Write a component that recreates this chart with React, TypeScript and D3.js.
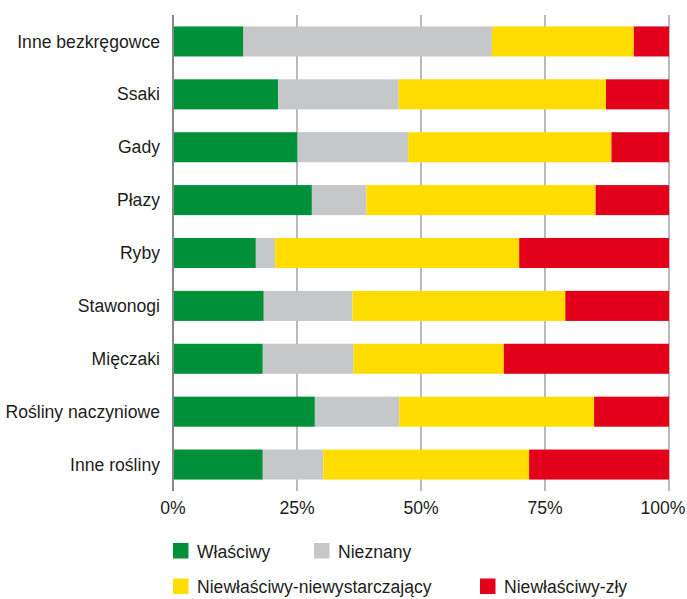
import React from "react";
import * as d3 from "d3";

const categories = [
  "Inne bezkręgowce",
  "Ssaki",
  "Gady",
  "Płazy",
  "Ryby",
  "Stawonogi",
  "Mięczaki",
  "Rośliny naczyniowe",
  "Inne rośliny",
];

const seriesNames = [
  "Właściwy",
  "Nieznany",
  "Niewłaściwy-niewystarczający",
  "Niewłaściwy-zły",
];

const wlasciwy = [14.2, 21.2, 25.1, 28.0, 16.7, 18.3, 18.1, 28.6, 18.1];
const nieznany = [50.1, 24.3, 22.3, 11.0, 3.9, 17.9, 18.3, 17.0, 12.2];
const niewystarczajacy = [28.6, 41.8, 41.0, 46.2, 49.2, 42.9, 30.3, 39.3, 41.5];
const zly = [7.1, 12.7, 11.6, 14.8, 30.2, 20.9, 33.3, 15.1, 28.2];

const tickValues = [0, 25, 50, 75, 100];
const tickLabels = ["0%", "25%", "50%", "75%", "100%"];

const colors = ["#00903a", "#c6c7c9", "#ffdd00", "#e2001a"];

const W = 687;
const H = 599;
const FONT = "'Liberation Sans', Arial, sans-serif";
const TEXT = "#1d1d1b";

export default function App() {
  const x = d3.scaleLinear().domain([0, 100]).range([173, 669]);
  const y = d3
    .scaleBand<string>()
    .domain(categories)
    .range([15, 491])
    .paddingInner(0.432)
    .paddingOuter(0.216);

  const table = categories.map((c, i) => ({
    cat: c,
    s0: wlasciwy[i],
    s1: nieznany[i],
    s2: niewystarczajacy[i],
    s3: zly[i],
  }));
  const stack = d3.stack<any>().keys(["s0", "s1", "s2", "s3"]);
  const layers = stack(table);

  const [yTop, yBot] = y.range();

  const legendRows = [
    { y: 543, items: [{ i: 0, x: 173 }, { i: 1, x: 314 }] },
    { y: 578.5, items: [{ i: 2, x: 173 }, { i: 3, x: 480 }] },
  ];

  return (
    <svg
      width={W}
      height={H}
      style={{ position: "absolute", left: 0, top: 0, background: "#fff" }}
      fontFamily={FONT}
    >
      {tickValues.slice(1).map((t) => (
        <line
          key={t}
          x1={x(t)}
          x2={x(t)}
          y1={yTop}
          y2={yBot}
          stroke="#9d9d9c"
          strokeWidth={1.4}
        />
      ))}
      {layers.map((layer, li) => (
        <g key={li} fill={colors[li]}>
          {layer.map((d, di) => (
            <rect
              key={di}
              x={x(d[0])}
              width={x(d[1]) - x(d[0])}
              y={y(categories[di])}
              height={y.bandwidth()}
            />
          ))}
        </g>
      ))}
      <line x1={x(0)} x2={x(0)} y1={yTop} y2={yBot} stroke="#878787" strokeWidth={2} />
      {tickValues.map((t, i) => {
        const last = i === tickValues.length - 1;
        return (
          <text
            key={t}
            x={last ? W - 1.5 : x(t)}
            y={513.5}
            textAnchor={last ? "end" : "middle"}
            fontSize={17.6}
            fill={TEXT}
          >
            {tickLabels[i]}
          </text>
        );
      })}
      {categories.map((c) => (
        <text
          key={c}
          x={160}
          y={(y(c) as number) + y.bandwidth() / 2}
          dy="0.35em"
          textAnchor="end"
          fontSize={17.6}
          fill={TEXT}
        >
          {c}
        </text>
      ))}
      {legendRows.map((row, ri) => (
        <g key={ri}>
          {row.items.map((it) => (
            <g key={it.i}>
              <rect x={it.x} y={row.y} width={15.5} height={15.5} fill={colors[it.i]} />
              <text x={it.x + 24} y={row.y + 14.5} fontSize={17.6} fill={TEXT}>
                {seriesNames[it.i]}
              </text>
            </g>
          ))}
        </g>
      ))}
    </svg>
  );
}
